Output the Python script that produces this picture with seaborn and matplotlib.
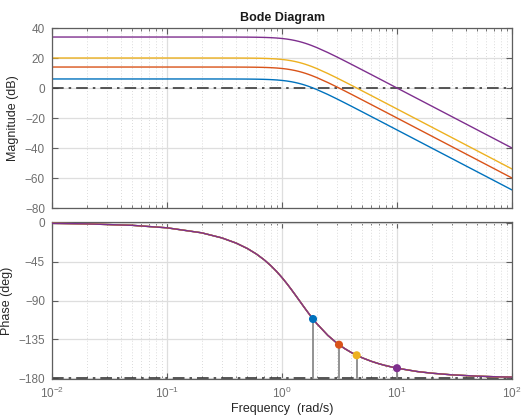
import numpy as np
import pandas as pd
import matplotlib
matplotlib.use("Agg")
import matplotlib.pyplot as plt
import seaborn as sns
from matplotlib.ticker import LogLocator, LogFormatterMathtext, NullFormatter

# ---- data ----
freq = [0.01, 0.02, 0.05, 0.1, 0.2, 0.3, 0.4, 0.5, 0.6, 0.7, 0.8, 0.9, 1.0,
        1.1, 1.2, 1.3, 1.4, 1.5, 1.6, 1.7, 1.8, 2.0, 2.5, 3.0, 3.5, 4.0, 5.0,
        6.0, 7.0, 8.0, 10.0, 15.0, 20.0, 30.0, 50.0, 70.0, 100.0]
# normalised magnitude shape (dB, DC gain removed)
mag_shape = [0.0, 0.0, 0.0, -0.0001, -0.0017, -0.0088, -0.0277, -0.0673, -0.1385,
             -0.253, -0.4234, -0.660, -0.969, -1.355, -1.814, -2.341, -2.923,
             -3.552, -4.213, -4.897, -5.592, -6.99, -10.32, -13.27, -15.86,
             -18.13, -21.97, -25.12, -27.79, -30.11, -33.98, -41.02, -46.02,
             -53.06, -61.94, -67.78, -73.98]
phase = [-0.57, -1.15, -2.87, -5.74, -11.53, -17.44, -23.50, -29.74, -36.19,
         -42.84, -49.64, -56.53, -63.43, -70.25, -76.87, -83.20, -89.18,
         -94.76, -99.93, -104.67, -109.01, -116.57, -130.36, -139.40, -145.67,
         -150.26, -156.50, -160.56, -163.41, -165.53, -168.47, -172.34,
         -174.26, -176.18, -177.71, -178.36, -178.85]
series = ["K=2", "K=5", "K=10", "K=50"]
dc_gain_db = [6.02, 13.98, 20.0, 33.98]
crossover_freq = [1.861, 3.130, 4.461, 9.999]
crossover_phase = [-111.46, -141.24, -153.51, -168.47]
colors = ["#0072BD", "#D95319", "#EDB120", "#7E2F8E"]

mag_tick = [40, 20, 0, -20, -40, -60, -80]
phase_tick = [0, -45, -90, -135, -180]

# ---- build tables ----
rows = []
for s, g in zip(series, dc_gain_db):
    for f, m, p in zip(freq, mag_shape, phase):
        rows.append({"freq": f, "mag": g + m, "phase": p, "sys": s})
df = pd.DataFrame(rows)
mk = pd.DataFrame({"freq": crossover_freq, "phase": crossover_phase, "sys": series})

sns.set_theme(style="white")
plt.rcParams["font.family"] = ["Liberation Sans", "DejaVu Sans"]
plt.rcParams["mathtext.default"] = "regular"

W, H = 521, 415
fig = plt.figure(figsize=(W / 100, H / 100), dpi=100)
ax1 = fig.add_axes([52 / W, 1 - 208 / H, 460 / W, 180 / H])
ax2 = fig.add_axes([52 / W, 1 - 379 / H, 460 / W, 157 / H])

pal = dict(zip(series, colors))
edge = "#5e5e5e"
tickc = "#6e6e6e"

for ax in (ax1, ax2):
    ax.set_xscale("log")
    ax.set_xlim(0.01, 100)
    ax.xaxis.set_major_locator(LogLocator(base=10, numticks=10))
    ax.xaxis.set_minor_locator(LogLocator(base=10, subs=np.arange(2, 10), numticks=100))
    ax.grid(True, which="major", color="#dedede", lw=0.9, ls="-")
    ax.grid(True, which="minor", axis="x", color="#cfcfcf", lw=0.6, ls=(0, (1, 2.5)))
    for sp in ax.spines.values():
        sp.set_color(edge)
        sp.set_linewidth(0.9)
    ax.tick_params(which="both", direction="in", top=True, right=True, bottom=True,
                   left=True, colors=edge, labelcolor=tickc, labelsize=8.5)
    ax.tick_params(which="major", length=4, width=0.8, pad=5)
    ax.tick_params(which="minor", length=2.2, width=0.6)
    ax.set_axisbelow(True)

# magnitude
sns.lineplot(data=df, x="freq", y="mag", hue="sys", palette=pal, ax=ax1,
             legend=False, lw=1.0, sort=False, estimator=None)
ax1.axhline(0, color="#3a3a3a", lw=1.2, ls="-.", dashes=(7, 3, 1.5, 3), zorder=1)
ax1.set_ylim(-80, 40)
ax1.set_yticks(mag_tick)
ax1.xaxis.set_major_formatter(NullFormatter())
ax1.set_xlabel("")
ax1.set_ylabel("Magnitude (dB)", fontsize=9, color="#262626", labelpad=4)
ax1.set_title("Bode Diagram", fontsize=9, fontweight="bold", color="#1a1a1a", pad=5)

# phase
ax2.axhline(-180, color="#3a3a3a", lw=1.2, ls="-.", dashes=(7, 3, 1.5, 3), zorder=1)
for f, p in zip(crossover_freq, crossover_phase):
    ax2.plot([f, f], [-180, p], color="#8a8a8a", lw=1.3, zorder=2)
sns.lineplot(data=df, x="freq", y="phase", hue="sys", palette=pal, ax=ax2,
             legend=False, lw=1.0, sort=False, estimator=None, zorder=3)
sns.scatterplot(data=mk, x="freq", y="phase", hue="sys", palette=pal, ax=ax2,
                legend=False, s=34, edgecolor="none", zorder=4)
ax2.set_ylim(-181, 1)
ax2.set_yticks(phase_tick)
ax2.xaxis.set_major_formatter(LogFormatterMathtext())
ax2.set_ylabel("Phase (deg)", fontsize=9, color="#262626", labelpad=4)
ax2.set_xlabel("Frequency  (rad/s)", fontsize=9, color="#262626", labelpad=1)

fig.savefig("out.png", dpi=100)
